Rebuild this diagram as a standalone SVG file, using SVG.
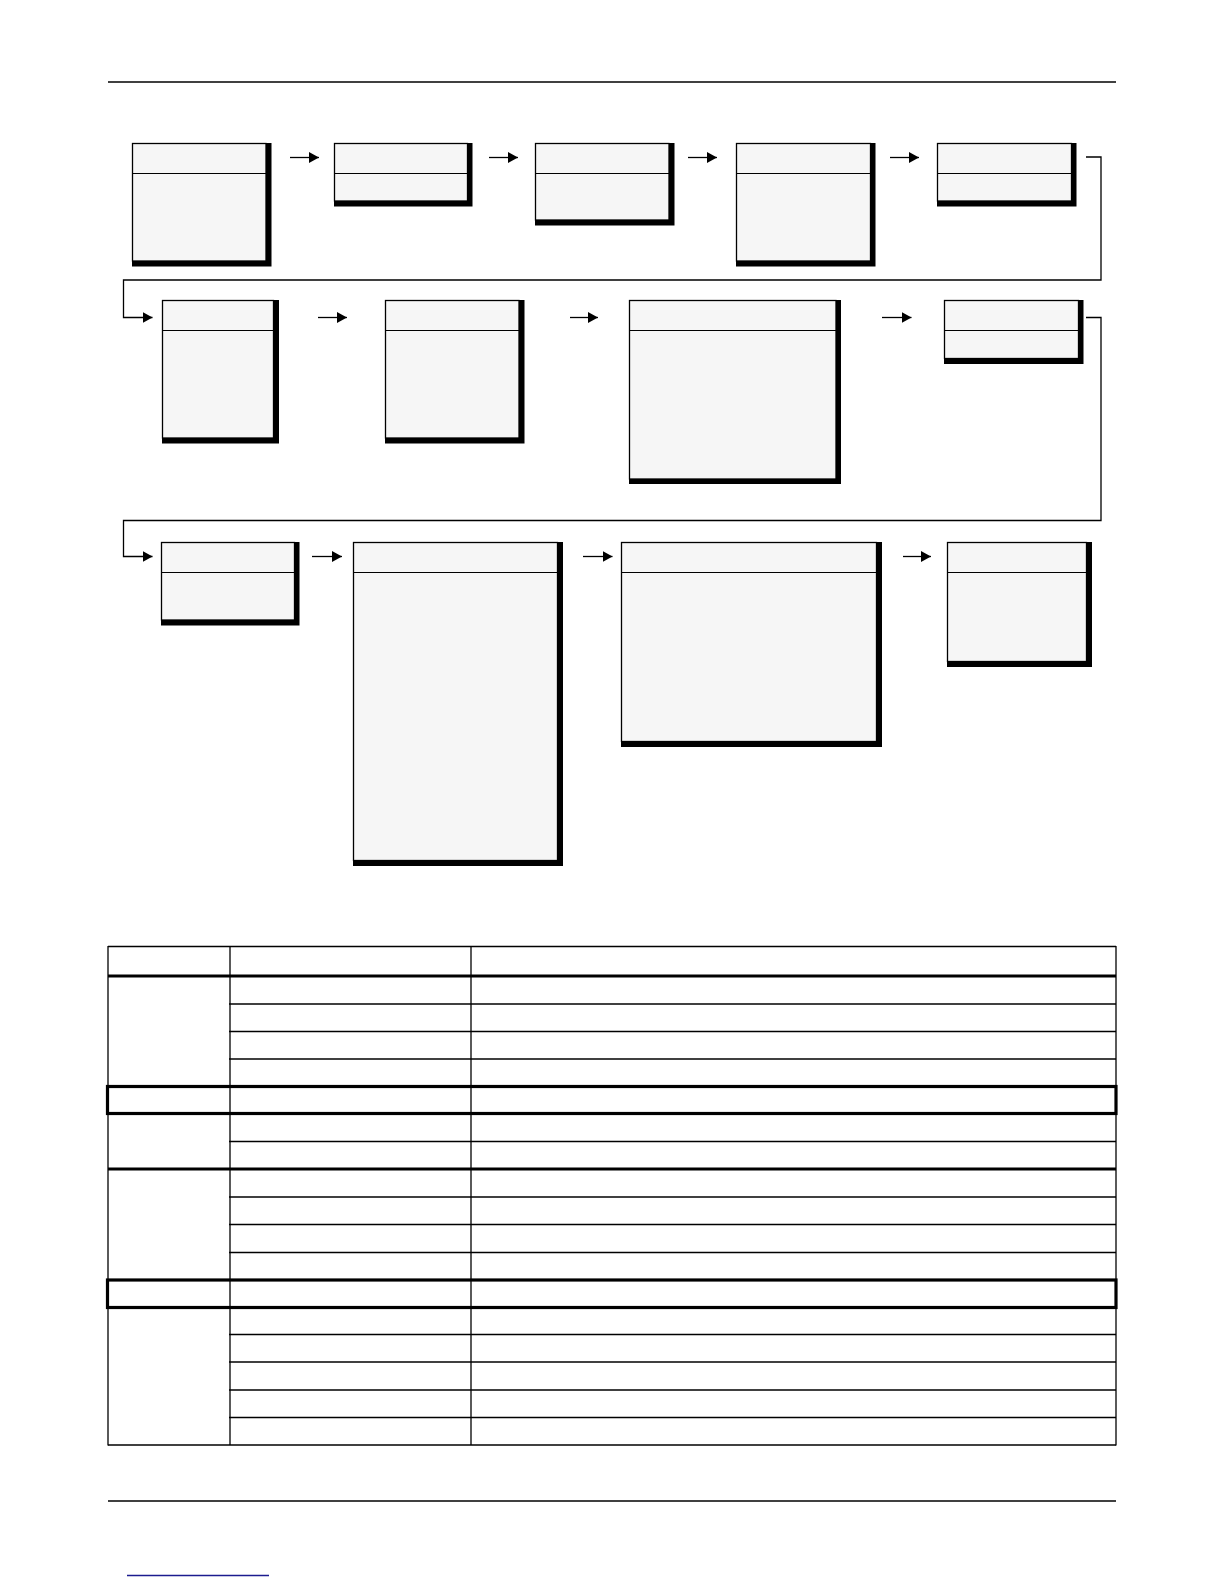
<svg xmlns="http://www.w3.org/2000/svg" width="1224" height="1584" viewBox="0 0 1224 1584">
<defs>
<style>
.bg{fill:#ffffff}
.sh{fill:#000000}
.bx{fill:#f6f6f6;stroke:#000000;stroke-width:1.3}
.hd{stroke:#000000;stroke-width:1.2}
.cn{fill:none;stroke:#000000;stroke-width:1.3}
.rule{stroke:#000000;stroke-width:1.3}
.tn{stroke:#000000;stroke-width:1.3}
.tk{stroke:#000000;stroke-width:3.2;fill:none}
</style>
<marker id="ah" markerUnits="userSpaceOnUse" markerWidth="11" markerHeight="12" refX="10" refY="6" orient="auto">
<path d="M0,0.5 L10,6 L0,11.5 Z" fill="#000000"/>
</marker>
</defs>
<rect class="bg" x="0" y="0" width="1224" height="1584"/>
<line class="rule" x1="108" y1="82" x2="1116" y2="82"/>
<line class="rule" x1="108" y1="1501" x2="1116" y2="1501"/>
<line x1="127" y1="1575.5" x2="269" y2="1575.5" stroke="#1c1c8f" stroke-width="1.5"/>

<g id="n1"><rect class="sh" x="132" y="143" width="139.5" height="123.5"/><rect class="bx" x="132.5" y="143.5" width="133.5" height="117.5"/><line class="hd" x1="132.5" y1="173.5" x2="266" y2="173.5"/></g>
<g id="n2"><rect class="sh" x="334" y="143" width="138.5" height="63.5"/><rect class="bx" x="334.5" y="143.5" width="133" height="57.5"/><line class="hd" x1="334.5" y1="173.5" x2="467.5" y2="173.5"/></g>
<g id="n3"><rect class="sh" x="535" y="143" width="139.5" height="82.5"/><rect class="bx" x="535.5" y="143.5" width="133.5" height="76.5"/><line class="hd" x1="535.5" y1="173.5" x2="669" y2="173.5"/></g>
<g id="n4"><rect class="sh" x="736" y="143" width="139.5" height="123.5"/><rect class="bx" x="736.5" y="143.5" width="134" height="117.5"/><line class="hd" x1="736.5" y1="173.5" x2="870.5" y2="173.5"/></g>
<g id="n5"><rect class="sh" x="937" y="143" width="139.5" height="63.5"/><rect class="bx" x="937.5" y="143.5" width="134" height="57.5"/><line class="hd" x1="937.5" y1="173.5" x2="1071.5" y2="173.5"/></g>

<g id="n6"><rect class="sh" x="162" y="300" width="117" height="143.5"/><rect class="bx" x="162.5" y="300.5" width="111" height="137.5"/><line class="hd" x1="162.5" y1="330.5" x2="273.5" y2="330.5"/></g>
<g id="n7"><rect class="sh" x="385" y="300" width="139.5" height="143.5"/><rect class="bx" x="385.5" y="300.5" width="133.5" height="137.5"/><line class="hd" x1="385.5" y1="330.5" x2="519" y2="330.5"/></g>
<g id="n8"><rect class="sh" x="629" y="300" width="212" height="184"/><rect class="bx" x="629.5" y="300.5" width="206.5" height="178.5"/><line class="hd" x1="629.5" y1="330.5" x2="836" y2="330.5"/></g>
<g id="n9"><rect class="sh" x="944" y="300" width="139.5" height="64"/><rect class="bx" x="944.5" y="300.5" width="134" height="58"/><line class="hd" x1="944.5" y1="330.5" x2="1078.5" y2="330.5"/></g>

<g id="n10"><rect class="sh" x="161" y="542" width="138.5" height="83.5"/><rect class="bx" x="161.5" y="542.5" width="133" height="77.5"/><line class="hd" x1="161.5" y1="572.5" x2="294.5" y2="572.5"/></g>
<g id="n11"><rect class="sh" x="353" y="542" width="210" height="324"/><rect class="bx" x="353.5" y="542.5" width="204" height="318"/><line class="hd" x1="353.5" y1="572.5" x2="557.5" y2="572.5"/></g>
<g id="n12"><rect class="sh" x="621" y="542" width="261" height="205"/><rect class="bx" x="621.5" y="542.5" width="255" height="199"/><line class="hd" x1="621.5" y1="572.5" x2="876.5" y2="572.5"/></g>
<g id="n13"><rect class="sh" x="947" y="542" width="145" height="125"/><rect class="bx" x="947.5" y="542.5" width="139" height="119"/><line class="hd" x1="947.5" y1="572.5" x2="1086.5" y2="572.5"/></g>

<g id="connectors">
<path class="cn" d="M290,157.5 H319" marker-end="url(#ah)"/>
<path class="cn" d="M489,157.5 H518" marker-end="url(#ah)"/>
<path class="cn" d="M688,157.5 H717" marker-end="url(#ah)"/>
<path class="cn" d="M890,157.5 H919" marker-end="url(#ah)"/>
<path class="cn" d="M1086,157 H1101 V280 H123.5 V317.5 H152.5" marker-end="url(#ah)"/>
<path class="cn" d="M318,317.5 H347" marker-end="url(#ah)"/>
<path class="cn" d="M570,317.5 H598" marker-end="url(#ah)"/>
<path class="cn" d="M882,317.5 H911.5" marker-end="url(#ah)"/>
<path class="cn" d="M1086,317.5 H1101 V520.5 H123.5 V556.5 H152.5" marker-end="url(#ah)"/>
<path class="cn" d="M312,556.5 H342" marker-end="url(#ah)"/>
<path class="cn" d="M583,556.5 H612.5" marker-end="url(#ah)"/>
<path class="cn" d="M903,556.5 H931" marker-end="url(#ah)"/>
</g>

<g id="table">
<line class="tn" x1="108" y1="946.5" x2="1116" y2="946.5"/>
<line class="tn" x1="108" y1="1445" x2="1116" y2="1445"/>
<line class="tn" x1="108" y1="946" x2="108" y2="1445.6"/>
<line class="tn" x1="1116" y1="946" x2="1116" y2="1445.6"/>
<line class="tn" x1="230" y1="946" x2="230" y2="1445"/>
<line class="tn" x1="471" y1="946" x2="471" y2="1445"/>
<line class="tk" x1="108" y1="976" x2="1116" y2="976"/>
<line class="tn" x1="229" y1="1004" x2="1116" y2="1004"/>
<line class="tn" x1="229" y1="1031.5" x2="1116" y2="1031.5"/>
<line class="tn" x1="229" y1="1059" x2="1116" y2="1059"/>
<rect class="tk" x="107.5" y="1086.5" width="1008.5" height="27"/>
<line class="tn" x1="229" y1="1141.5" x2="1116" y2="1141.5"/>
<line class="tk" x1="108" y1="1169" x2="1116" y2="1169"/>
<line class="tn" x1="229" y1="1197" x2="1116" y2="1197"/>
<line class="tn" x1="229" y1="1224.5" x2="1116" y2="1224.5"/>
<line class="tn" x1="229" y1="1252.5" x2="1116" y2="1252.5"/>
<rect class="tk" x="107.5" y="1280" width="1008.5" height="27.5"/>
<line class="tn" x1="229" y1="1334.5" x2="1116" y2="1334.5"/>
<line class="tn" x1="229" y1="1362" x2="1116" y2="1362"/>
<line class="tn" x1="229" y1="1390" x2="1116" y2="1390"/>
<line class="tn" x1="229" y1="1417.5" x2="1116" y2="1417.5"/>
</g>
</svg>
